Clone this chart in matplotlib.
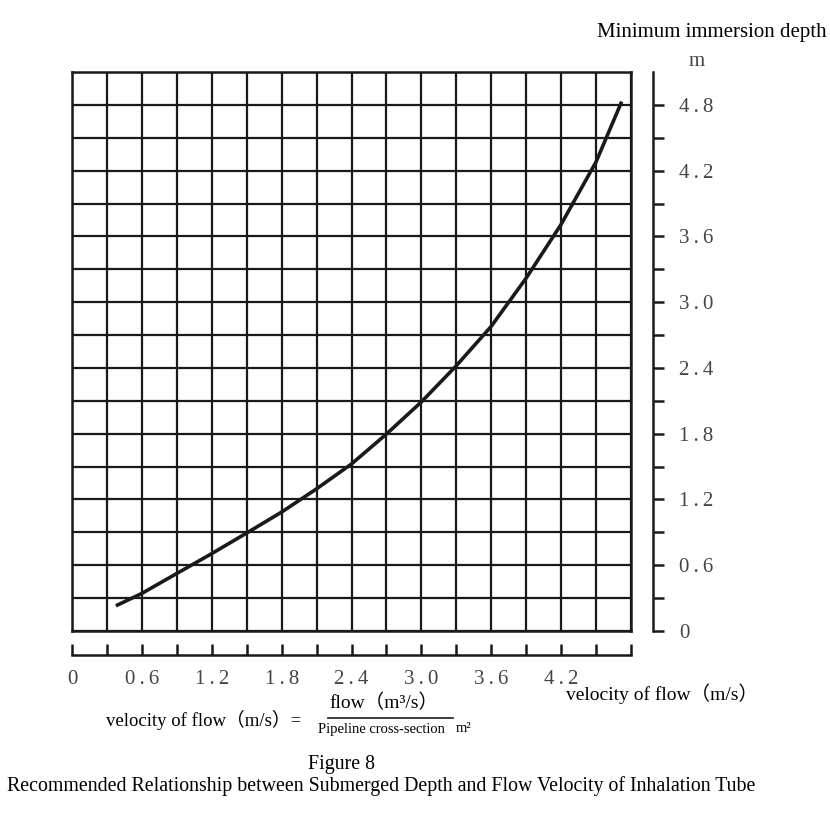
import matplotlib
matplotlib.use("Agg")
import matplotlib.pyplot as plt
import numpy as np
from matplotlib.ticker import FixedLocator

# curve (flow velocity m/s -> minimum immersion depth m)
velocity = [0.377, 0.6, 0.9, 1.2, 1.5, 1.8, 2.1, 2.4, 2.7, 3.0, 3.3, 3.6, 3.9, 4.2, 4.5, 4.72]
depth = [0.23, 0.343, 0.525, 0.706, 0.894, 1.085, 1.297, 1.524, 1.797, 2.09, 2.42, 2.78, 3.22, 3.71, 4.28, 4.83]

x_labels = ["0", "0.6", "1.2", "1.8", "2.4", "3.0", "3.6", "4.2"]
y_labels = ["0", "0.6", "1.2", "1.8", "2.4", "3.0", "3.6", "4.2", "4.8"]

W, H = 830, 814
FONT = ["Liberation Serif", "Noto Sans CJK SC", "DejaVu Sans"]
plt.rcParams["font.family"] = FONT
INK = "#1a1a1a"
GREY = "#444444"


def fx(px):
    return px / W


def fy(py):
    return 1 - py / H


def spaced(s):
    # the original prints the scale numbers with loose letter spacing
    return "\u2009".join(s)


fig = plt.figure(figsize=(W / 100, H / 100), dpi=100)

# main grid
left, right, top, bottom = 72, 631, 72, 631
ax = fig.add_axes([fx(left), fy(bottom), (right - left) / W, (bottom - top) / H])
ax.set_xlim(0, 4.8)
ax.set_ylim(0, 5.1)
ax.set_xticks(np.arange(0, 4.81, 0.3))
ax.set_yticks(np.arange(0, 5.11, 0.3))
ax.grid(True, color=INK, linewidth=1.6)
ax.tick_params(length=0, labelbottom=False, labelleft=False)
for s in ax.spines.values():
    s.set_linewidth(1.8)
    s.set_color(INK)
ax.plot(velocity, depth, color=INK, linewidth=2.6, solid_capstyle="butt",
        solid_joinstyle="round", zorder=5)

# right-hand depth scale
ay = fig.add_axes([fx(653), fy(bottom), 0.0001, (bottom - top) / H])
ay.set_ylim(0, 5.1)
for k in ["left", "top", "bottom"]:
    ay.spines[k].set_visible(False)
ay.spines["right"].set_linewidth(1.8)
ay.spines["right"].set_color(INK)
ay.set_xticks([])
ay.yaxis.tick_right()
ay.yaxis.set_major_locator(FixedLocator(np.arange(0, 4.81, 0.6)))
ay.yaxis.set_minor_locator(FixedLocator(np.arange(0.3, 4.81, 0.6)))
ay.set_yticklabels([spaced(t) for t in y_labels])
ay.tick_params(axis="y", which="both", direction="out", length=8, width=1.8, color=INK)
ay.tick_params(axis="y", which="major", pad=11, labelsize=15, labelcolor=GREY)

# bottom velocity scale
axb = fig.add_axes([fx(left), fy(655), (right - left) / W, 0.0001])
axb.set_xlim(0, 4.8)
for k in ["left", "top", "right"]:
    axb.spines[k].set_visible(False)
axb.spines["bottom"].set_linewidth(1.8)
axb.spines["bottom"].set_color(INK)
axb.set_yticks([])
axb.xaxis.set_major_locator(FixedLocator(np.arange(0, 4.21, 0.6)))
axb.xaxis.set_minor_locator(FixedLocator(np.arange(0.3, 4.81, 0.3)))
axb.set_xticklabels([spaced(t) for t in x_labels])
axb.tick_params(axis="x", which="both", direction="in", length=8, width=1.8, color=INK)
axb.tick_params(axis="x", which="major", pad=10.5, labelsize=15, labelcolor=GREY)

# texts
fig.text(fx(712), fy(33), "Minimum immersion depth", ha="center", va="center", fontsize=15)
fig.text(fx(697), fy(62), "m", ha="center", va="center", fontsize=15, color=GREY)
fig.text(fx(566), fy(694), "velocity of flow（m/s）", ha="left", va="center", fontsize=14)
fig.text(fx(106), fy(720), "velocity of flow（m/s）=", ha="left", va="center", fontsize=13.5)
fig.text(fx(384), fy(703), "flow（m³/s）", ha="center", va="center", fontsize=14)
fig.add_artist(plt.Line2D([fx(328), fx(453)], [fy(718), fy(718)], color=INK, linewidth=1.2))
fig.text(fx(381), fy(730), "Pipeline cross-section", ha="center", va="center", fontsize=10.5)
fig.text(fx(456), fy(728), "m²", ha="left", va="center", fontsize=10.5)
fig.text(fx(341), fy(765), "Figure 8", ha="center", va="center", fontsize=14.3)
fig.text(fx(381), fy(786),
         "Recommended Relationship between Submerged Depth and Flow Velocity of Inhalation Tube",
         ha="center", va="center", fontsize=14.35)

fig.savefig("out.png", dpi=100)
